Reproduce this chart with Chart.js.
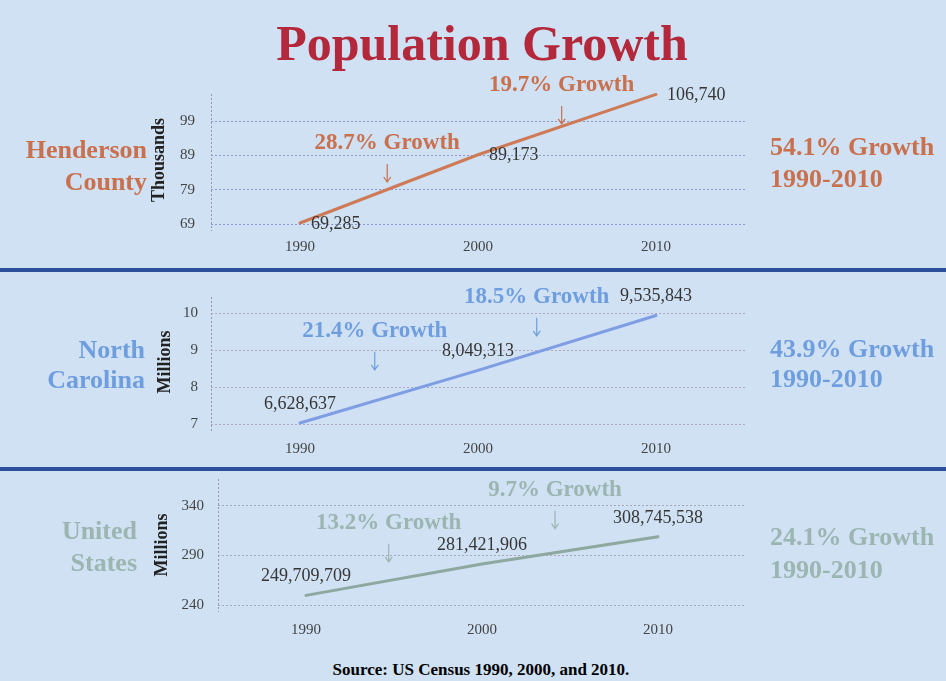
<!DOCTYPE html>
<html>
<head>
<meta charset="utf-8">
<title>Population Growth</title>
<script src="https://cdn.jsdelivr.net/npm/chart.js@4"></script>
<style>
  html, body { margin: 0; padding: 0; }
  body { width: 946px; height: 681px; overflow: hidden; background: #cfe1f3; position: relative;
         font-family: "Liberation Serif", "Times New Roman", serif; }
  canvas { position: absolute; left: 0; }
  .txt { position: absolute; white-space: nowrap; font-weight: bold; }
  .side { text-align: right; font-size: 26px; }
  .total { font-size: 26px; }
  .unit { position: absolute; width: 120px; height: 20px; line-height: 20px; text-align: center;
          font-size: 18px; font-weight: bold; color: #222; transform: rotate(-90deg); }
  .rule { position: absolute; left: 0; width: 946px; height: 4px; background: #2e4f9b; z-index: 2; }
</style>
</head>
<body>

<div class="txt" style="left:482px; top:18px; transform:translateX(-50%); font-size:50px; line-height:50px; color:#b3283a;">Population Growth</div>

<canvas id="hendersonChart" width="946" height="208" style="top:60px"></canvas>
<canvas id="ncChart" width="946" height="195" style="top:272px"></canvas>
<canvas id="usChart" width="946" height="178" style="top:471px"></canvas>

<div class="rule" style="top:268px"></div>
<div class="rule" style="top:467px"></div>

<div class="txt side" style="right:799px; top:134px; line-height:32px; color:#c9704f;">Henderson<br>County</div>
<div class="unit" style="left:98px; top:150px;">Thousands</div>
<div class="txt total" style="left:770px; top:131px; line-height:31.5px; color:#c9704f;">54.1% Growth<br>1990-2010</div>

<div class="txt side" style="right:801px; top:335px; line-height:30px; color:#6f9ede;">North<br>Carolina</div>
<div class="unit" style="left:104px; top:352px;">Millions</div>
<div class="txt total" style="left:770px; top:334px; line-height:30px; color:#6f9ede;">43.9% Growth<br>1990-2010</div>

<div class="txt side" style="right:809px; top:515px; line-height:32px; color:#9bb5b1;">United<br>States</div>
<div class="unit" style="left:101px; top:535px;">Millions</div>
<div class="txt total" style="left:770px; top:520px; line-height:33px; color:#9bb5b1;">24.1% Growth<br>1990-2010</div>

<div class="txt" style="left:481px; top:660px; transform:translateX(-50%); font-size:17px; line-height:20px; color:#000;">Source: US Census 1990, 2000, and 2010.</div>

<script>
// census years
const years = ["1990", "2000", "2010"];

// population counts
const hendersonPop = [69285, 89173, 106740];
const ncPop = [6628637, 8049313, 9535843];
const usPop = [249709709, 281421906, 308745538];

// y axis ticks as printed on the slide (NC ticks were rounded for display)
const hendersonTicks = [69, 79, 89, 99];
const hendersonTickLabels = ["69", "79", "89", "99"];
const ncTicks = [6.6, 7.6, 8.6, 9.6];
const ncTickLabels = ["7", "8", "9", "10"];
const usTicks = [240, 290, 340];
const usTickLabels = ["240", "290", "340"];

// decade growth callouts: text, position between years, height in axis units
const hendersonGrowth = ["28.7% Growth", "19.7% Growth"];
const hendersonGrowthAt = [0.49, 1.47];
const hendersonGrowthY = [92.6, 109.5];
const ncGrowth = ["21.4% Growth", "18.5% Growth"];
const ncGrowthAt = [0.42, 1.33];
const ncGrowthY = [9.12, 10.04];
const usGrowth = ["13.2% Growth", "9.7% Growth"];
const usGrowthAt = [0.47, 1.415];
const usGrowthY = [322.8, 356.2];

Chart.defaults.font.family = '"Liberation Serif", "Times New Roman", serif';

const fmt = (v) => v.toLocaleString("en-US");

const notesPlugin = {
  id: "panelNotes",
  beforeDatasetsDraw(chart) {
    // dotted vertical axis line
    const { ctx, chartArea } = chart;
    ctx.save();
    ctx.strokeStyle = "#9a9aa8";
    ctx.lineWidth = 1;
    ctx.setLineDash([2, 2]);
    ctx.beginPath();
    ctx.moveTo(chartArea.left + 0.5, chartArea.top + 2);
    ctx.lineTo(chartArea.left + 0.5, chartArea.bottom + 7);
    ctx.stroke();
    ctx.restore();
  },
  afterDatasetsDraw(chart, args, opts) {
    const { ctx, scales: { x, y } } = chart;
    const meta = chart.getDatasetMeta(0);
    ctx.save();

    // value labels
    ctx.font = '18px "Liberation Serif"';
    ctx.fillStyle = "#363636";
    ctx.textBaseline = "middle";
    meta.data.forEach((pt, i) => {
      const text = opts.valueLabels[i];
      if (opts.labelSide === "right") {
        ctx.textAlign = "left";
        ctx.fillText(text, pt.x + 11, pt.y + 1);
      } else {
        ctx.textAlign = "center";
        ctx.fillText(text, pt.x, pt.y - 19);
      }
    });

    // growth callouts with arrows
    ctx.font = 'bold 23px "Liberation Serif"';
    ctx.fillStyle = opts.color;
    ctx.strokeStyle = opts.color;
    ctx.lineWidth = 1.2;
    ctx.textAlign = "center";
    opts.growth.forEach((text, i) => {
      const px = x.getPixelForValue(opts.growthAt[i]);
      const py = y.getPixelForValue(opts.growthY[i]);
      ctx.fillText(text, px, py);
      const top = py + 21;
      const tip = top + 18;
      ctx.beginPath();
      ctx.moveTo(px, top);
      ctx.lineTo(px, tip);
      ctx.moveTo(px - 3.5, tip - 5);
      ctx.lineTo(px, tip);
      ctx.lineTo(px + 3.5, tip - 5);
      ctx.stroke();
    });
    ctx.restore();
  }
};

function makePanel(id, cfg) {
  return new Chart(document.getElementById(id), {
    type: "line",
    data: {
      labels: years,
      datasets: [{
        data: cfg.values,
        borderColor: cfg.lineColor,
        borderWidth: 3,
        borderCapStyle: "round",
        pointRadius: 0,
        tension: 0,
        clip: false,
      }]
    },
    options: {
      responsive: false,
      animation: false,
      devicePixelRatio: 1,
      layout: { padding: cfg.padding },
      plugins: {
        legend: { display: false },
        tooltip: { enabled: false },
        panelNotes: cfg.notes,
      },
      scales: {
        x: {
          offset: true,
          grid: { display: false, drawTicks: false },
          border: { display: false },
          ticks: { color: "#444", font: { size: 15 }, padding: cfg.xPad, maxRotation: 0 },
          afterFit: (s) => { s.height = 40; s.paddingLeft = 0; s.paddingRight = 0; },
        },
        y: {
          min: cfg.min,
          max: cfg.max,
          afterBuildTicks: (s) => { s.ticks = cfg.ticks.map((v) => ({ value: v })); },
          grid: { color: cfg.gridColor, lineWidth: 1, drawTicks: false },
          border: { display: false, dash: [2, 2] },
          ticks: {
            color: "#444",
            font: { size: 15 },
            padding: cfg.yPad,
            callback: (v, i) => cfg.tickLabels[i],
          },
          afterFit: (s) => { s.width = 40; s.paddingTop = 0; s.paddingBottom = 0; },
        }
      }
    },
    plugins: [notesPlugin]
  });
}

window.addEventListener("load", () => {
  makePanel("hendersonChart", {
    values: hendersonPop.map((v) => v / 1000),
    lineColor: "#cf7a56",
    gridColor: "rgba(120,125,195,0.75)",
    min: 69, max: 107.45,
    ticks: hendersonTicks, tickLabels: hendersonTickLabels,
    padding: { top: 32, bottom: 4, left: 171, right: 201 },
    xPad: 14, yPad: 16,
    notes: {
      valueLabels: hendersonPop.map(fmt), labelSide: "right", color: "#c9704f",
      growth: hendersonGrowth, growthAt: hendersonGrowthAt, growthY: hendersonGrowthY,
    },
  });

  makePanel("ncChart", {
    values: ncPop.map((v) => v / 1e6),
    lineColor: "#7f9de4",
    gridColor: "rgba(170,150,180,0.8)",
    min: 6.6, max: 10.09,
    ticks: ncTicks, tickLabels: ncTickLabels,
    padding: { top: 23, bottom: 3, left: 171, right: 201 },
    xPad: 16, yPad: 13,
    notes: {
      valueLabels: ncPop.map(fmt), labelSide: "above", color: "#6f9ede",
      growth: ncGrowth, growthAt: ncGrowthAt, growthY: ncGrowthY,
    },
  });

  makePanel("usChart", {
    values: usPop.map((v) => v / 1e6),
    lineColor: "#8ea79f",
    gridColor: "rgba(150,150,165,0.75)",
    min: 240, max: 369,
    ticks: usTicks, tickLabels: usTickLabels,
    padding: { top: 6, bottom: 4, left: 178, right: 200 },
    xPad: 16, yPad: 14,
    notes: {
      valueLabels: usPop.map(fmt), labelSide: "above", color: "#9bb5b1",
      growth: usGrowth, growthAt: usGrowthAt, growthY: usGrowthY,
    },
  });
});
</script>
</body>
</html>
